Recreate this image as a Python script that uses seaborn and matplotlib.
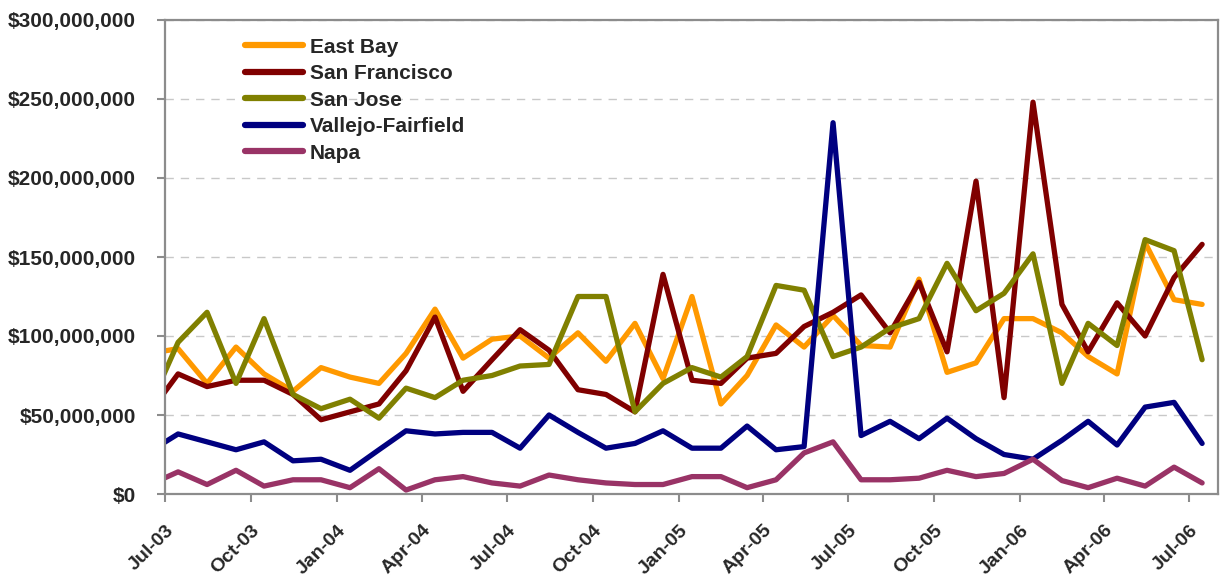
import numpy as np
import pandas as pd
import matplotlib
matplotlib.use("Agg")
import matplotlib.pyplot as plt
import matplotlib.dates as mdates
from matplotlib.ticker import FuncFormatter, MultipleLocator
import seaborn as sns

# Monthly values (millions of $), Jun-03 .. Jul-06 (Jun-03 lies just left of the visible axis)
months = [pd.Timestamp(year=d.year, month=d.month, day=15)
          for d in pd.date_range("2003-06-01", periods=38, freq="MS")]

east_bay = [89, 92, 70, 93, 76, 65, 80, 74, 70, 89, 117, 86, 98, 100, 86, 102, 84, 108, 73,
            125, 57, 75, 107, 93, 113, 94, 93, 136, 77, 83, 111, 111, 102, 87, 76, 159, 123, 120]
san_francisco = [52, 76, 68, 72, 72, 63, 47, 52, 57, 78, 112, 65, 85, 104, 91, 66, 63, 52, 139,
                 72, 70, 86, 89, 106, 115, 126, 102, 134, 90, 198, 61, 248, 120, 90, 121, 100, 137, 158]
san_jose = [56, 96, 115, 70, 111, 63, 54, 60, 48, 67, 61, 72, 75, 81, 82, 125, 125, 52, 70,
            80, 74, 87, 132, 129, 87, 93, 105, 111, 146, 116, 127, 152, 70, 108, 94, 161, 154, 85]
vallejo_fairfield = [27, 38, 33, 28, 33, 21, 22, 15, 28, 40, 38, 39, 39, 29, 50, 39, 29, 32, 40,
                     29, 29, 43, 28, 30, 235, 37, 46, 35, 48, 35, 25, 22, 34, 46, 31, 55, 58, 32]
napa = [6, 14, 6, 15, 5, 9, 9, 4, 16, 2.5, 9, 11, 7, 5, 12, 9, 7, 6, 6,
        11, 11, 4, 9, 26, 33, 9, 9, 10, 15, 11, 13, 22, 8.5, 4, 10, 5, 17, 7]

series_names = ["East Bay", "San Francisco", "San Jose", "Vallejo-Fairfield", "Napa"]
series_values = [east_bay, san_francisco, san_jose, vallejo_fairfield, napa]
colors = ["#FF9900", "#800000", "#808000", "#000080", "#993366"]

frames = []
for name, vals in zip(series_names, series_values):
    frames.append(pd.DataFrame({"date": months, "region": name,
                                "value": np.array(vals, dtype=float) * 1e6}))
df = pd.concat(frames, ignore_index=True)

sns.set_style("white")
plt.rcParams["font.family"] = ["Liberation Sans", "DejaVu Sans"]
plt.rcParams["font.weight"] = "bold"

fig = plt.figure(figsize=(12.21, 5.77), dpi=100)
ax = fig.add_axes([165 / 1221, 1 - 494 / 577, (1218 - 165) / 1221, (494 - 20) / 577])

sns.lineplot(data=df, x="date", y="value", hue="region", hue_order=series_names,
             palette=colors, linewidth=3.8, ax=ax, sort=False)

ax.set_xlim(pd.Timestamp("2003-07-01"), pd.Timestamp("2006-08-01"))
ax.set_ylim(0, 300e6)
ax.yaxis.set_major_locator(MultipleLocator(50e6))
ax.yaxis.set_major_formatter(FuncFormatter(lambda v, p: "${:,.0f}".format(v)))
ax.xaxis.set_major_locator(mdates.MonthLocator(bymonth=[1, 4, 7, 10]))
ax.xaxis.set_major_formatter(mdates.DateFormatter("%b-%y"))
ax.set_xlabel("")
ax.set_ylabel("")

ax.yaxis.grid(True, color="#c8c8c8", linestyle=(0, (6, 5)), linewidth=1)
ax.xaxis.grid(False)
ax.set_axisbelow(True)

for s in ax.spines.values():
    s.set_color("#8c8c8c")
    s.set_linewidth(1.6)
    s.set_visible(True)

ax.tick_params(axis="y", direction="out", length=6, width=1.5, color="#8c8c8c",
               labelsize=15, pad=15, left=True)
ax.tick_params(axis="x", direction="out", length=6, width=1.5, color="#8c8c8c",
               labelsize=14, pad=14, bottom=True)
for lab in ax.get_yticklabels():
    lab.set_fontweight("bold")
for lab in ax.get_xticklabels():
    lab.set_fontweight("bold")
    lab.set_rotation(45)
    lab.set_ha("right")
    lab.set_va("top")
    lab.set_rotation_mode("anchor")

sns.move_legend(ax, "upper left", bbox_to_anchor=(0.076, 0.963), frameon=False, title=None,
                prop={"weight": "bold", "size": 15}, handlelength=2.8, handletextpad=0.3,
                labelspacing=0.36, borderaxespad=0, borderpad=0)
leg = ax.get_legend()
for h in leg.legend_handles:
    h.set_linewidth(4.5)
    h.set_solid_capstyle("round")

fig.savefig("out.png", dpi=100)
